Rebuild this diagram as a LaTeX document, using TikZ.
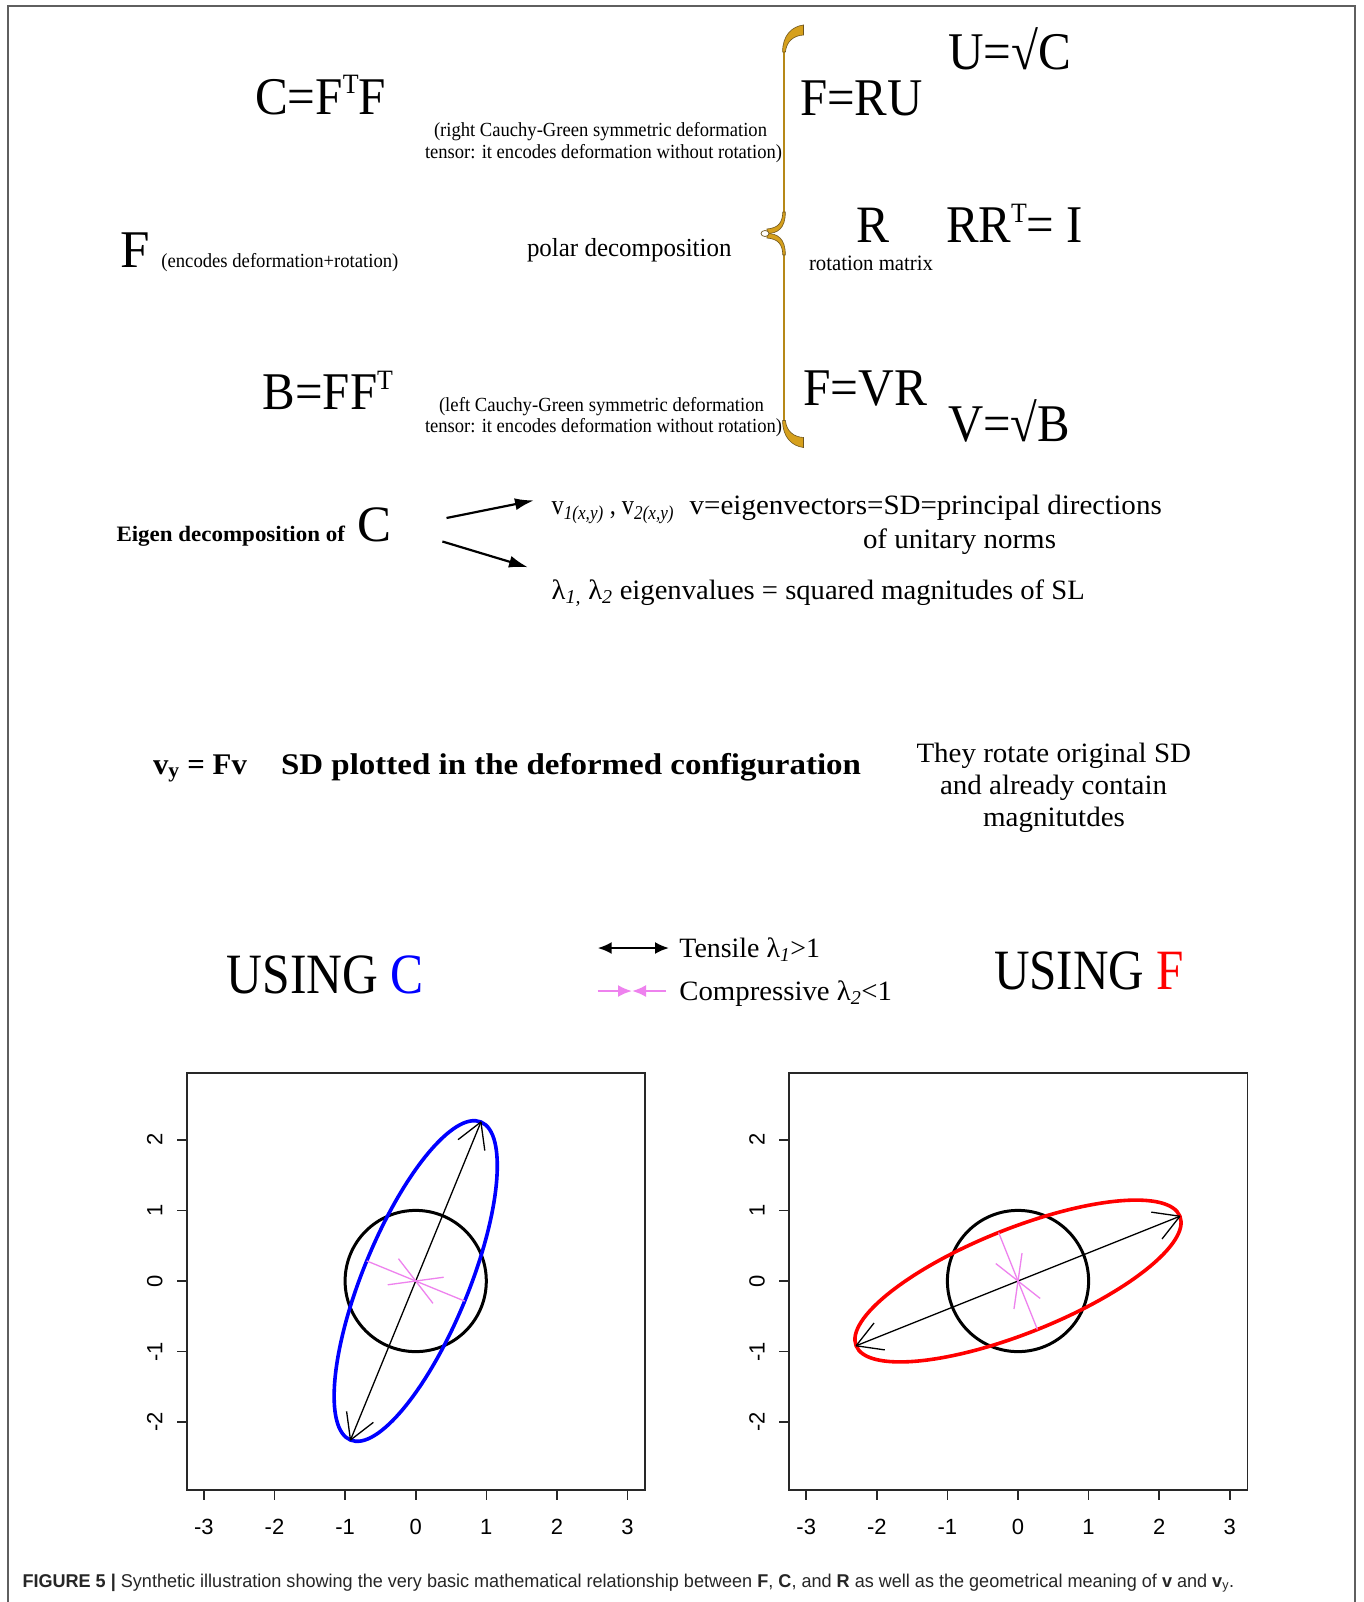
\documentclass[tikz,border=0pt]{standalone}
\usepackage{fontspec}
\setmainfont{Liberation Serif}
\newfontfamily\rsans{Liberation Sans}
\usetikzlibrary{arrows.meta,calc}
\definecolor{bracegold}{RGB}{214,160,28}
\definecolor{braceedge}{RGB}{110,85,30}
\definecolor{rviolet}{RGB}{238,130,238}
\definecolor{frameg}{RGB}{95,95,95}
\definecolor{axisc}{RGB}{40,40,40}
\newcommand\tx[3]{\resizebox{#2pt}{\height}{\fontsize{#1pt}{#1pt}\selectfont #3}}
\newcommand\supT[1]{\raisebox{#1pt}{\fontsize{28pt}{28pt}\selectfont T}}
\begin{document}
\begin{tikzpicture}[x=1pt,y=-1pt,
  lbl/.style={anchor=base west, inner sep=0pt, outer sep=0pt},
  ticklbl/.style={inner sep=0pt, anchor=mid, font={\rsans\fontsize{22pt}{22pt}\selectfont}},
  axline/.style={axisc, line width=1.6pt},
  rhead/.style={black, line width=1.3pt},
  phead/.style={rviolet, line width=1.3pt},
  legtip/.style={-{Latex[length=14pt,width=12pt]}, line width=2.2pt},
  eigarrow/.style={-{Latex[length=19pt,width=12pt]}, line width=2.2pt}]
\useasboundingbox (0,0) rectangle (1363,1602);
\fill[white] (0,0) rectangle (1363,1602);
\draw[frameg, line width=1.5pt] (8,1602) -- (8,6) -- (1355,6) -- (1355,1602);

% ---------- top block ----------
\node[lbl] (cff) at (255,114.4) {\tx{53}{131}{C=F\supT{21}F}};
\node[lbl] (prc1) at (434,137) {\tx{20}{333}{(right Cauchy-Green symmetric deformation}};
\node[lbl] (prc2) at (425,159) {\tx{20}{357}{tensor: it encodes deformation without rotation)}};
\node[lbl] (usq) at (948,69.5) {\tx{53}{123}{U=√C}};
\node[lbl] (fru) at (800,115.5) {\tx{53}{122.6}{F=RU}};
\node[lbl] (fF) at (120.6,267.7) {\fontsize{53pt}{53pt}\selectfont F};
\node[lbl] (enc) at (161.4,268) {\tx{20}{237}{(encodes deformation+rotation)}};
\node[lbl] (polar) at (527,257) {\tx{26}{204.5}{polar decomposition}};
\node[lbl] (rr) at (856,242.5) {\tx{52.5}{33}{R}};
\node[lbl] (rotm) at (809,270.5) {\tx{22}{124}{rotation matrix}};
\node[lbl] (rrt) at (946,242.5) {\tx{53}{137}{RR\supT{20}= I}};
\node[lbl] (fvr) at (803,405) {\tx{53}{124}{F=VR}};
\node[lbl] (vsq) at (948,441.5) {\tx{53}{122}{V=√B}};
\node[lbl] (bff) at (262.6,409.5) {\tx{53}{130.4}{B=FF\supT{20}}};
\node[lbl] (plc1) at (439,411) {\tx{20}{325}{(left Cauchy-Green symmetric deformation}};
\node[lbl] (plc2) at (425,432.5) {\tx{20}{357}{tensor: it encodes deformation without rotation)}};

% brace
\draw[bracegold!85!black, line width=2.4pt] (784,48) -- (784,216);
\draw[bracegold!85!black, line width=2.4pt] (784,250) -- (784,425);
\filldraw[fill=bracegold, draw=braceedge, line width=0.6pt]
  (782.6,52) .. controls (782.6,35) and (792,26.5) .. (803.5,25) -- (803.5,35)
  .. controls (794,35.5) and (786.5,41) .. (785.4,52) -- cycle;
\filldraw[fill=bracegold, draw=braceedge, line width=0.6pt]
  (782.6,420.5) .. controls (782.6,437.5) and (792,446) .. (803.5,447.5) -- (803.5,437.5)
  .. controls (794,437) and (786.5,431.5) .. (785.4,420.5) -- cycle;
\filldraw[fill=bracegold, draw=braceedge, line width=0.6pt]
  (782.8,212) .. controls (782.5,223) and (778,228) .. (767,229) -- (767,233.5)
  .. controls (777,233.5) and (785.5,229) .. (785.3,212) -- cycle;
\filldraw[fill=bracegold, draw=braceedge, line width=0.6pt]
  (782.8,255) .. controls (782.5,244) and (778,239) .. (767,238) -- (767,233.5)
  .. controls (777,233.5) and (785.5,238) .. (785.3,255) -- cycle;
\filldraw[fill=white, draw=braceedge, line width=0.7pt] (765,233.5) ellipse [x radius=4, y radius=3];

% ---------- eigen block ----------
\node[lbl] (eig) at (116.5,541.5) {\tx{22}{228.5}{\bfseries Eigen decomposition of}};
\node[lbl] (ceig) at (357.6,541.5) {\fontsize{51pt}{51pt}\selectfont C};
\node[lbl] (vsub) at (551.7,514) {\tx{28}{122.3}{v\textsubscript{\itshape 1(x,y)} , v\textsubscript{\itshape 2(x,y)}}};
\node[lbl] (veig) at (689.7,514) {\tx{28}{472}{v=eigenvectors=SD=principal directions}};
\node[lbl] (vuni) at (863,548.5) {\tx{28}{193}{of unitary norms}};
\node[lbl] (lam) at (551.7,599.5) {\tx{28}{533}{λ\textsubscript{\itshape 1,} λ\textsubscript{\itshape 2} eigenvalues = squared magnitudes of SL}};
\coordinate (e1s) at (446.5,518);
\coordinate (e1e) at (534,500.4);
\coordinate (e2s) at (442.4,541.5);
\coordinate (e2e) at (528,567.3);
\draw[eigarrow] (e1s) -- (e1e);
\draw[eigarrow] (e2s) -- (e2e);

% ---------- deformed block ----------
\node[lbl] (vyfv) at (153,774) {\tx{30}{94}{\bfseries v\textsubscript{y} = Fv}};
\node[lbl] (sdpl) at (281,774) {\tx{30}{580}{\bfseries SD plotted in the deformed configuration}};
\node[lbl] (th1) at (916.5,762) {\tx{28}{274.5}{They rotate original SD}};
\node[lbl] (th2) at (940,794.5) {\tx{28}{227}{and already contain}};
\node[lbl] (th3) at (983,826.5) {\tx{28}{142}{magnitutdes}};

% ---------- titles and legend ----------
\node[lbl] (usc) at (226.8,993) {\tx{57}{197}{USING {\color{blue}C}}};
\node[lbl] (usf) at (994,989) {\tx{57}{190}{USING {\color{red}F}}};
\node[lbl] (tens) at (679.4,957) {\tx{28}{140.6}{Tensile λ\textsubscript{\itshape 1}>1}};
\node[lbl] (comp) at (679.4,1000) {\tx{28}{212.6}{Compressive λ\textsubscript{\itshape 2}<1}};
\coordinate (ta1) at (597.7,948);
\coordinate (ta2) at (669,948);
\draw[{Latex[length=14pt,width=12pt]}-{Latex[length=14pt,width=12pt]}, line width=2.2pt] (ta1) -- (ta2);
\coordinate (ca1) at (597.7,991);
\coordinate (ca2) at (666,991);
\coordinate (cam) at (632,991);
\draw[legtip, rviolet] (ca1) -- (cam);
\draw[legtip, rviolet] (ca2) -- (cam);

% ---------- plot 1 (using C) ----------
\begin{scope}[shift={(415.7,1281)}, x=70.6pt, y=70.6pt]
  \draw[axline] (-3.24,-2.96) rectangle (3.25,2.95);
  \foreach \tk in {-3,...,3} {
    \draw[axline] (\tk,-2.96) -- (\tk,-3.10);
    \node[ticklbl] (xa\tk) at (\tk,-3.56) {\tk};
  }
  \foreach \tk in {-2,...,2} {
    \draw[axline] (-3.24,\tk) -- (-3.38,\tk);
    \node[ticklbl, rotate=90] (ya\tk) at (-3.62,\tk) {\tk};
  }
  \draw[black, line width=3pt] (0,0) circle [radius=1];
  \draw[blue, line width=3.6pt, rotate=67.7] (0,0) ellipse [x radius=2.435, y radius=0.75];
  \coordinate (b1p) at (67.7:2.435);
  \coordinate (b1m) at (247.7:2.435);
  \draw[rhead] (b1m) -- (b1p);
  \draw[rhead] (b1p) -- ++(217.7:0.41);
  \draw[rhead] (b1p) -- ++(277.7:0.41);
  \draw[rhead] (b1m) -- ++(37.7:0.41);
  \draw[rhead] (b1m) -- ++(97.7:0.41);
  \coordinate (p1a) at (157.7:0.75);
  \coordinate (p1b) at (-22.3:0.75);
  \coordinate (o1) at (0,0);
  \draw[phead] (p1a) -- (p1b);
  \draw[phead] (o1) -- (187.7:0.4);
  \draw[phead] (o1) -- (127.7:0.4);
  \draw[phead] (o1) -- (7.7:0.4);
  \draw[phead] (o1) -- (307.7:0.4);
\end{scope}

% ---------- plot 2 (using F) ----------
\begin{scope}[shift={(1018,1281)}, x=70.6pt, y=70.6pt]
  \draw[axline] (-3.24,-2.96) rectangle (3.25,2.95);
  \foreach \tk in {-3,...,3} {
    \draw[axline] (\tk,-2.96) -- (\tk,-3.10);
    \node[ticklbl] (xb\tk) at (\tk,-3.56) {\tk};
  }
  \foreach \tk in {-2,...,2} {
    \draw[axline] (-3.24,\tk) -- (-3.38,\tk);
    \node[ticklbl, rotate=90] (yb\tk) at (-3.62,\tk) {\tk};
  }
  \draw[black, line width=3pt] (0,0) circle [radius=1];
  \draw[red, line width=3.6pt, rotate=21.8] (0,0) ellipse [x radius=2.47, y radius=0.74];
  \coordinate (b2p) at (21.8:2.47);
  \coordinate (b2m) at (201.8:2.47);
  \draw[rhead] (b2m) -- (b2p);
  \draw[rhead] (b2p) -- ++(171.8:0.41);
  \draw[rhead] (b2p) -- ++(231.8:0.41);
  \draw[rhead] (b2m) -- ++(-8.2:0.41);
  \draw[rhead] (b2m) -- ++(51.8:0.41);
  \coordinate (p2a) at (111.8:0.74);
  \coordinate (p2b) at (-68.2:0.74);
  \coordinate (o2) at (0,0);
  \draw[phead] (p2a) -- (p2b);
  \draw[phead] (o2) -- (141.8:0.4);
  \draw[phead] (o2) -- (81.8:0.4);
  \draw[phead] (o2) -- (-38.2:0.4);
  \draw[phead] (o2) -- (261.8:0.4);
\end{scope}

% ---------- caption ----------
\node[lbl] (capt) at (22.5,1587) {\resizebox{1211.5pt}{\height}{\rsans\fontsize{18.5pt}{18.5pt}\selectfont\color{black!85}\textbf{FIGURE 5 |} Synthetic illustration showing the very basic mathematical relationship between \textbf{F}, \textbf{C}, and \textbf{R} as well as the geometrical meaning of \textbf{v} and \textbf{v}\textsubscript{y}.}};
\end{tikzpicture}
\end{document}
